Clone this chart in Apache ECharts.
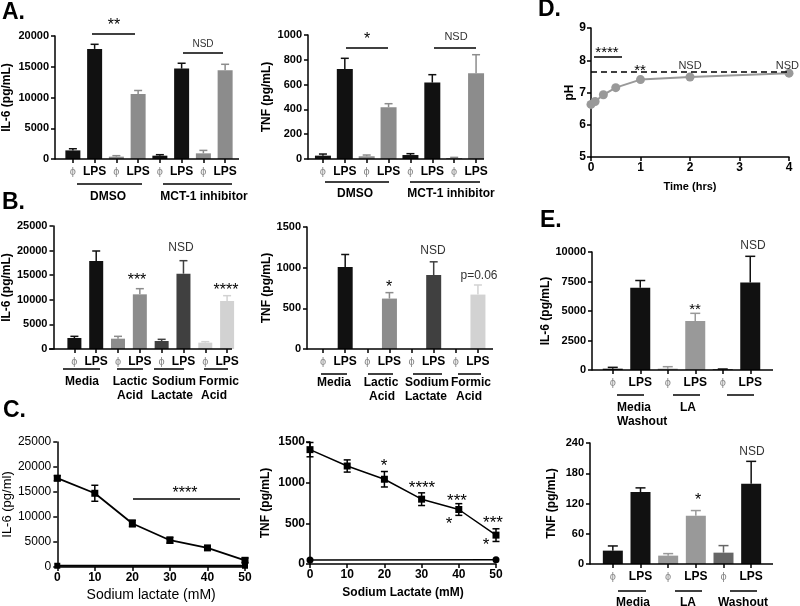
<!DOCTYPE html>
<html><head><meta charset="utf-8">
<script src="https://cdn.jsdelivr.net/npm/echarts@6/dist/echarts.min.js"></script>
<style>html,body{margin:0;padding:0;background:#fff}#c{width:800px;height:606px}</style>
</head><body><div id="c"></div>
<script>
// ---------------- DATA ----------------
const barCats8 = ['ϕ','LPS','ϕ','LPS','ϕ','LPS','ϕ','LPS'];
const barCats6 = ['ϕ','LPS','ϕ','LPS','ϕ','LPS'];

const aIL6    = [1400, 17900, 380, 10550, 540, 14700, 920, 14430];
const aIL6Err = [270, 750, 160, 590, 160, 870, 480, 970];
const aTNF    = [27, 726, 22, 417, 32, 616, 8, 691];
const aTNFErr = [13, 86, 10, 29, 11, 64, 5, 150];

const bIL6    = [2240, 17890, 2100, 11110, 1625, 15310, 1290, 9760];
const bIL6Err = [335, 2030, 475, 1150, 340, 2640, 200, 1080];
const bTNF    = [0, 1007, 0, 620, 0, 909, 0, 669];
const bTNFErr = [0, 155, 0, 73, 0, 163, 0, 118];

const cDose     = [0, 10, 20, 30, 40, 50];
const cIL6      = [17760, 14745, 8710, 5360, 3820, 1340];
const cIL6Err   = [500, 1600, 670, 600, 200, 450];
const cCtrlDose = [0, 50];
const cIL6Ctrl  = [250, 250];
const cTNF      = [1406, 1205, 1042, 797, 670, 355];
const cTNFErr   = [88, 75, 95, 78, 72, 78];
const cTNFCtrl  = [49, 53];

const dTime     = [0, 0.083, 0.25, 0.5, 1, 2, 4];
const dPH       = [6.63, 6.72, 6.93, 7.15, 7.40, 7.48, 7.60];
const dBaseline = 7.63;

const eIL6    = [112, 6966, 112, 4157, 56, 7416];
const eIL6Err = [113, 618, 169, 646, 28, 2219];
const eTNF    = [26.5, 142.6, 16.6, 95.5, 22.5, 159];
const eTNFErr = [9.3, 8.4, 4, 10.5, 14, 44.6];

// ---------------- STYLE / LAYOUT ----------------
const FONT = '"Liberation Sans", Arial, Helvetica, sans-serif';
function font(size, bold){ return (bold ? 'bold ' : '') + size + 'px ' + FONT; }
const BLK = '#111', GRY = '#8c8c8c', DRK = '#404040', LGT = '#d2d2d2';
const plain = v => String(v);

const grids = [], xAxes = [], yAxes = [], series = [], graphics = [];

function errRender(colors, cap, both){
  return function(p, api){
    const x = api.value(0), lo = api.value(1), hi = api.value(2);
    if (hi - lo <= 0) return null;
    const a = api.coord([x, lo]), b = api.coord([x, hi]);
    const c = Array.isArray(colors) ? colors[p.dataIndex] : colors;
    const st = {stroke: c, lineWidth: 1.5};
    const h = cap / 2;
    const ch = [
      {type:'line', shape:{x1:a[0], y1:a[1], x2:b[0], y2:b[1]}, style:st},
      {type:'line', shape:{x1:b[0]-h, y1:b[1], x2:b[0]+h, y2:b[1]}, style:st}
    ];
    if (both) ch.push({type:'line', shape:{x1:a[0]-h, y1:a[1], x2:a[0]+h, y2:a[1]}, style:st});
    return {type:'group', children: ch};
  };
}

function addBarPanel(cfg){
  const gi = grids.length;
  grids.push({left:cfg.left, top:cfg.top, width:cfg.width, height:cfg.height});
  xAxes.push({type:'category', gridIndex:gi, data:cfg.cats,
    axisLine:{show:false},
    axisTick:{show:true, alignWithLabel:true, length:4, lineStyle:{color:'#000', width:1.5}},
    axisLabel:{margin:7, interval:0, formatter: v => v === 'LPS' ? '{l|LPS}' : '{p|ϕ}',
      rich:{l:{fontFamily:FONT, fontWeight:'bold', fontSize:12, color:'#000'},
            p:{fontFamily:FONT, fontSize:11, color:'#888'}}},
    splitLine:{show:false}});
  yAxes.push({type:'value', gridIndex:gi, min:0, max:cfg.max, interval:cfg.interval, offset:cfg.yOffset,
    name:cfg.name, nameLocation:'middle', nameGap:cfg.nameGap, nameRotate:90,
    nameTextStyle:{fontFamily:FONT, fontWeight:'bold', fontSize:12, color:'#000'},
    axisLine:{show:true, lineStyle:{color:'#000', width:1.5}},
    axisTick:{show:true, length:4, lineStyle:{color:'#000', width:1.5}},
    axisLabel:{fontFamily:FONT, fontWeight:'bold', fontSize:11, color:'#000', margin:6, formatter:plain},
    splitLine:{show:false}});
  series.push({type:'bar', xAxisIndex:gi, yAxisIndex:gi, barWidth:cfg.barWidth, z:2,
    data: cfg.values.map((v, i) => ({value:v, itemStyle:{color:cfg.colors[i]}}))});
  series.push({type:'custom', xAxisIndex:gi, yAxisIndex:gi, z:3,
    data: cfg.values.map((v, i) => [i, v, v + cfg.errs[i]]),
    renderItem: errRender(cfg.colors, cfg.cap, false)});
  const yb = cfg.top + cfg.height;
  graphics.push({type:'line', z:10, shape:{x1:cfg.left - cfg.yOffset, y1:yb, x2:cfg.axisEnd, y2:yb},
    style:{stroke:'#000', lineWidth:1.5}});
}

const colsA = [BLK, BLK, GRY, GRY, BLK, BLK, GRY, GRY];
const colsB = [BLK, BLK, GRY, GRY, DRK, DRK, LGT, LGT];

addBarPanel({left:62, top:36, width:174, height:123, yOffset:7, axisEnd:239, barWidth:15, cap:8,
  cats:barCats8, values:aIL6, errs:aIL6Err, colors:colsA, max:20000, interval:5000, name:'IL-6 (pg/mL)', nameGap:42});
addBarPanel({left:312, top:35, width:175, height:124, yOffset:4, axisEnd:484, barWidth:16, cap:8,
  cats:barCats8, values:aTNF, errs:aTNFErr, colors:colsA, max:1000, interval:200, name:'TNF (pg/mL)', nameGap:35});
addBarPanel({left:59, top:226, width:179, height:123, yOffset:10, axisEnd:232, barWidth:14, cap:8,
  cats:barCats8, values:bIL6, errs:bIL6Err, colors:colsB, max:25000, interval:5000, name:'IL-6 (pg/mL)', nameGap:37});
addBarPanel({left:312, top:227, width:177, height:122, yOffset:5, axisEnd:493, barWidth:15, cap:8,
  cats:barCats8, values:bTNF, errs:bTNFErr, colors:colsB, max:1500, interval:500, name:'TNF (pg/mL)', nameGap:34});
addBarPanel({left:599, top:252, width:165, height:118, yOffset:7, axisEnd:773, barWidth:20, cap:10,
  cats:barCats6, values:eIL6, errs:eIL6Err, colors:[BLK, BLK, '#999', '#999', BLK, BLK], max:10000, interval:2500, name:'IL-6 (pg/mL)', nameGap:38});
addBarPanel({left:599, top:443, width:166, height:121, yOffset:9, axisEnd:773, barWidth:20, cap:10,
  cats:barCats6, values:eTNF, errs:eTNFErr, colors:[BLK, BLK, '#999', '#999', '#666', BLK], max:240, interval:60, name:'TNF (pg/mL)', nameGap:32});

function valAxis(gi, o){
  return Object.assign({type:'value', gridIndex:gi, nameLocation:'middle', splitLine:{show:false},
    axisLine:{show:true, onZero:false, lineStyle:{color:'#000', width:1.5}},
    axisTick:{show:true, length:4, lineStyle:{color:'#000', width:1.5}}}, o);
}

// C left
(function(){
  const gi = grids.length;
  grids.push({left:57, top:442, width:188, height:125});
  xAxes.push(valAxis(gi, {min:0, max:50, interval:10, name:'Sodium lactate (mM)', nameGap:21,
    nameTextStyle:{fontFamily:FONT, fontSize:14, color:'#000'},
    axisLabel:{fontFamily:FONT, fontWeight:'bold', fontSize:12, color:'#000', margin:5, formatter:plain}}));
  yAxes.push(valAxis(gi, {min:0, max:25000, interval:5000, name:'IL-6 (pg/ml)', nameGap:37, nameRotate:90,
    nameTextStyle:{fontFamily:FONT, fontSize:13, color:'#000'},
    axisLabel:{fontFamily:FONT, fontSize:12, color:'#000', margin:6, formatter:plain}}));
  series.push({type:'line', xAxisIndex:gi, yAxisIndex:gi, data:cDose.map((d, i) => [d, cIL6[i]]),
    symbol:'rect', symbolSize:7, lineStyle:{color:'#000', width:1.8}, itemStyle:{color:'#000'}, z:4});
  series.push({type:'custom', xAxisIndex:gi, yAxisIndex:gi, z:3,
    data:cDose.map((d, i) => [d, cIL6[i] - cIL6Err[i], cIL6[i] + cIL6Err[i]]), renderItem:errRender('#000', 7, true)});
  series.push({type:'line', xAxisIndex:gi, yAxisIndex:gi, data:cCtrlDose.map((d, i) => [d, cIL6Ctrl[i]]),
    symbol:'rect', symbolSize:6, lineStyle:{color:'#000', width:2}, itemStyle:{color:'#000'}, z:4});
})();

// C right
(function(){
  const gi = grids.length;
  grids.push({left:310, top:442, width:186, height:122});
  xAxes.push(valAxis(gi, {min:0, max:50, interval:10, name:'Sodium Lactate (mM)', nameGap:23,
    nameTextStyle:{fontFamily:FONT, fontWeight:'bold', fontSize:12, color:'#000'},
    axisLabel:{fontFamily:FONT, fontWeight:'bold', fontSize:12, color:'#000', margin:5, formatter:plain}}));
  yAxes.push(valAxis(gi, {min:0, max:1500, interval:500, name:'TNF (pg/mL)', nameGap:38, nameRotate:90,
    nameTextStyle:{fontFamily:FONT, fontWeight:'bold', fontSize:12, color:'#000'},
    axisLabel:{fontFamily:FONT, fontWeight:'bold', fontSize:12, color:'#000', margin:5, formatter:plain}}));
  series.push({type:'line', xAxisIndex:gi, yAxisIndex:gi, data:cDose.map((d, i) => [d, cTNF[i]]),
    symbol:'rect', symbolSize:7, lineStyle:{color:'#000', width:1.5}, itemStyle:{color:'#000'}, z:4});
  series.push({type:'custom', xAxisIndex:gi, yAxisIndex:gi, z:3,
    data:cDose.map((d, i) => [d, cTNF[i] - cTNFErr[i], cTNF[i] + cTNFErr[i]]), renderItem:errRender('#000', 7, true)});
  series.push({type:'line', xAxisIndex:gi, yAxisIndex:gi, data:cCtrlDose.map((d, i) => [d, cTNFCtrl[i]]),
    symbol:'circle', symbolSize:7, lineStyle:{color:'#000', width:1.5}, itemStyle:{color:'#000'}, z:4});
})();

// D
(function(){
  const gi = grids.length;
  grids.push({left:591, top:28, width:198, height:129});
  xAxes.push(valAxis(gi, {min:0, max:4, interval:1, name:'Time (hrs)', nameGap:24,
    nameTextStyle:{fontFamily:FONT, fontWeight:'bold', fontSize:11, color:'#000'},
    axisLabel:{fontFamily:FONT, fontWeight:'bold', fontSize:12, color:'#000', margin:5, formatter:plain}}));
  yAxes.push(valAxis(gi, {min:5, max:9, interval:1, name:'pH', nameGap:14, nameRotate:90,
    nameTextStyle:{fontFamily:FONT, fontWeight:'bold', fontSize:12, color:'#000'},
    axisLabel:{fontFamily:FONT, fontWeight:'bold', fontSize:12, color:'#000', margin:5, formatter:plain}}));
  series.push({type:'line', xAxisIndex:gi, yAxisIndex:gi, data:dTime.map((t, i) => [t, dPH[i]]),
    symbol:'circle', symbolSize:9, lineStyle:{color:'#999', width:2}, itemStyle:{color:'#999'}, z:4,
    markLine:{silent:true, symbol:'none', label:{show:false},
      lineStyle:{color:'#000', type:[6,4], width:1.5}, data:[{yAxis:dBaseline}]}});
})();

// ---------------- ANNOTATIONS ----------------
function txt(t, x, y, size, bold, align, color){
  graphics.push({type:'text', x:x, y:y, z:10, style:{text:t, font:font(size, bold), fill:color || '#000',
    align:align || 'center', verticalAlign:'middle'}});
}
function ln(x1, y1, x2, y2, w){
  graphics.push({type:'line', z:10, shape:{x1:x1, y1:y1, x2:x2, y2:y2}, style:{stroke:'#000', lineWidth:w || 1.5}});
}
// panel letters
txt('A.', 2, 13, 23, true, 'left');
txt('B.', 2, 203, 23, true, 'left');
txt('C.', 3, 411, 23, true, 'left');
txt('D.', 538, 10, 23, true, 'left');
txt('E.', 540, 221, 23, true, 'left');

// A left
ln(92, 34, 135, 34); txt('**', 114, 26, 16, false);
ln(183, 53, 223, 53); txt('NSD', 203, 44, 10, false, 'center', '#333');
ln(77, 184, 142, 184); ln(163, 184, 232, 184);
txt('DMSO', 108, 197, 12, true); txt('MCT-1 inhibitor', 204, 197, 12, true);
// A right
ln(346, 48, 388, 48); txt('*', 367, 40, 16, false);
ln(434, 48, 476, 48); txt('NSD', 456, 37, 11, false, 'center', '#333');
ln(325, 182, 389, 182); ln(410, 182, 480, 182);
txt('DMSO', 355, 194, 12, true); txt('MCT-1 inhibitor', 451, 194, 12, true);
// B left
txt('NSD', 181, 248, 12, false, 'center', '#333'); txt('***', 137, 281, 16, false); txt('****', 226, 291, 16, false);
ln(63, 369, 100, 369); ln(117, 369, 143, 369); ln(154, 369, 184, 369); ln(204, 369, 228, 369);
txt('Media', 82, 382, 12, true); txt('Lactic', 130, 382, 12, true); txt('Sodium', 174, 382, 12, true); txt('Formic', 219, 382, 12, true);
txt('Acid', 130, 396, 12, true); txt('Lactate', 172, 396, 12, true); txt('Acid', 214, 396, 12, true);
// B right
txt('*', 389, 288, 16, false); txt('NSD', 433, 251, 12, false, 'center', '#333'); txt('p=0.06', 479, 276, 12, false, 'center', '#333');
ln(321, 374, 347, 374); ln(368, 374, 393, 374); ln(413, 374, 442, 374); ln(458, 374, 481, 374);
txt('Media', 334, 383, 12, true); txt('Lactic', 381, 383, 12, true); txt('Sodium', 427, 383, 12, true); txt('Formic', 471, 383, 12, true);
txt('Acid', 382, 397, 12, true); txt('Lactate', 426, 397, 12, true); txt('Acid', 469, 397, 12, true);
// C left
ln(133, 499, 240, 499); txt('****', 185, 494, 16, false);
// C right
txt('*', 384, 466, 17, false); txt('****', 422, 488, 17, false); txt('***', 457, 501, 17, false);
txt('*', 449, 524, 17, false); txt('***', 493, 523, 17, false); txt('*', 486, 545, 17, false);
// D
ln(594, 57, 622, 57); txt('****', 607, 53, 15, false); txt('**', 640, 71, 15, false);
txt('NSD', 690, 66, 11, false, 'center', '#333'); txt('NSD', 799, 66, 11, false, 'right', '#333');
// E top
txt('**', 695, 310, 15, false); txt('NSD', 753, 246, 12, false, 'center', '#333');
ln(617, 395, 644, 395); ln(673, 395, 700, 395); ln(727, 395, 754, 395);
txt('Media', 617, 408, 12, true, 'left'); txt('LA', 680, 408, 12, true, 'left'); txt('Washout', 617, 422, 12, true, 'left');
// E bottom
txt('*', 698, 501, 16, false); txt('NSD', 752, 452, 12, false, 'center', '#333');
ln(618, 591, 646, 591); ln(675, 591, 702, 591); ln(730, 591, 757, 591);
txt('Media', 633, 603, 12, true); txt('LA', 688, 603, 12, true); txt('Washout', 743, 603, 12, true);

const chart = echarts.init(document.getElementById('c'), null, {renderer:'canvas'});
chart.setOption({
  animation:false,
  backgroundColor:'#fff',
  textStyle:{fontFamily:FONT},
  grid:grids, xAxis:xAxes, yAxis:yAxes, series:series, graphic:graphics
});
</script></body></html>
